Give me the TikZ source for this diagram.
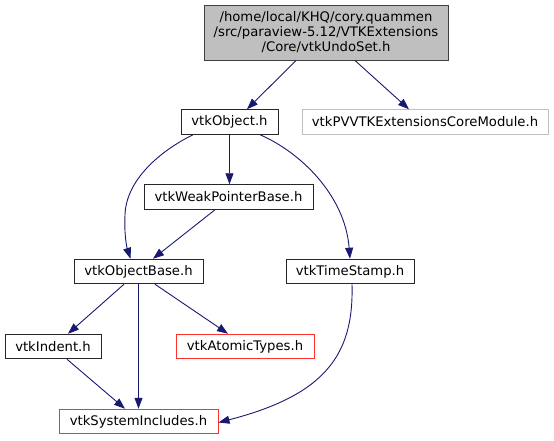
\documentclass[tikz,border=0pt]{standalone}
\usepackage{fontspec}
\setmainfont{DejaVu Sans}
\usetikzlibrary{arrows.meta}
\definecolor{edgeblue}{HTML}{191970}
\definecolor{lightgr}{HTML}{BFBFBF}
\definecolor{redbd}{HTML}{FF3030}
\begin{document}
\begin{tikzpicture}[x=1pt,y=-1pt,
  box/.style={draw=black!85,line width=1pt,fill=white,minimum height=24.5pt,inner sep=0pt,font=\fontsize{13.2}{15}\selectfont},
  graybox/.style={box,draw=lightgr},
  redbox/.style={box,draw=redbd},
  dep/.style={draw=edgeblue,line width=0.9pt,-{Triangle[length=11pt,width=8pt]},fill=none}
]
\useasboundingbox (0,0) rectangle (554,440);
\node[box,fill=lightgr,draw=black!75,minimum width=244pt,minimum height=55pt,align=center] (top) at (326,32.5)
  {/home/local/KHQ/cory.quammen\\/src/paraview-5.12/VTKExtensions\\/Core/vtkUndoSet.h};
\node[box,minimum width=97pt] (obj) at (229.5,122) {vtkObject.h};
\node[graybox,minimum width=246pt] (pv) at (425,122) {vtkPVVTKExtensionsCoreModule.h};
\node[box,minimum width=169pt] (weak) at (228.5,197) {vtkWeakPointerBase.h};
\node[box,minimum width=129pt] (base) at (138.5,271.5) {vtkObjectBase.h};
\node[box,minimum width=128pt] (ts) at (350,271.5) {vtkTimeStamp.h};
\node[box,minimum width=96pt] (indent) at (53,346.5) {vtkIndent.h};
\node[redbox,minimum width=138pt] (atomic) at (245,346.5) {vtkAtomicTypes.h};
\node[redbox,minimum width=159pt] (sys) at (138.5,421.5) {vtkSystemIncludes.h};

\draw[dep] ([xshift=-30pt]top.south) -- ([xshift=17.5pt]obj.north);
\draw[dep] ([xshift=29pt]top.south) -- ([xshift=-16pt]pv.north);
\draw[dep] (obj.south) -- (obj.south |- weak.north);
\draw[dep] ([xshift=-36.5pt]obj.south) .. controls (160,151) and (126,180) .. (125,215)
  .. controls (124,235) and (127,248) .. ([xshift=-8pt]base.north);
\draw[dep] ([xshift=30.5pt]obj.south) .. controls (300,152) and (345,195) .. (ts.north);
\draw[dep] ([xshift=-13.5pt]weak.south) -- ([xshift=14.5pt]base.north);
\draw[dep] ([xshift=-14.5pt]base.south) -- ([xshift=15pt]indent.north);
\draw[dep] (base.south) -- (sys.north);
\draw[dep] ([xshift=16.5pt]base.south) -- ([xshift=-17pt]atomic.north);
\draw[dep] ([xshift=14pt]indent.south) -- ([xshift=-13.5pt]sys.north);
\draw[dep] ([xshift=2pt]ts.south) .. controls (354,355) and (325,395) .. ([yshift=-1pt]sys.east);
\end{tikzpicture}
\end{document}
